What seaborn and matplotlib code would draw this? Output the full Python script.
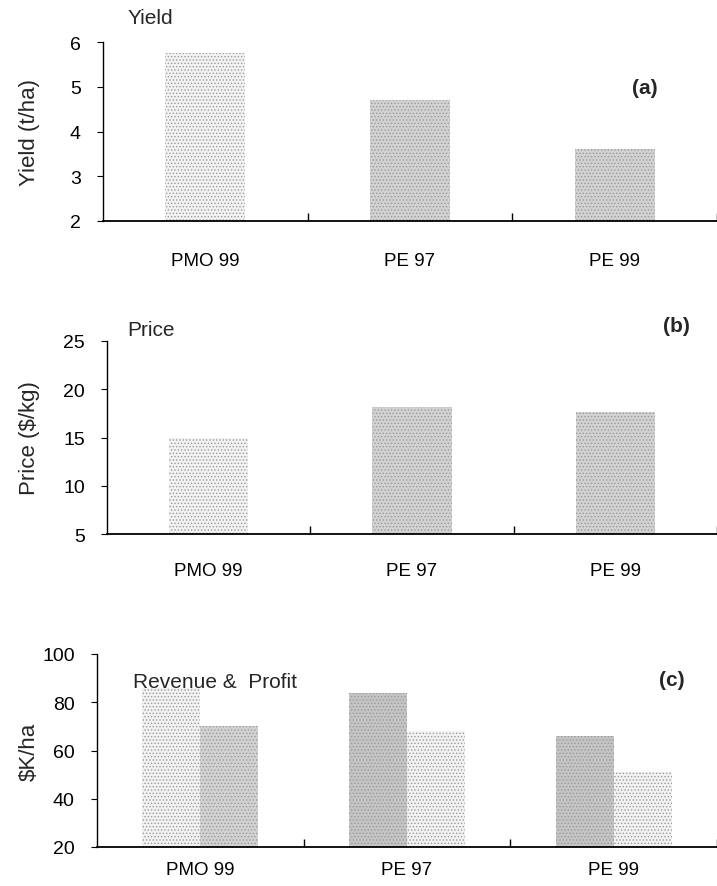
import matplotlib
matplotlib.use("Agg")
import matplotlib.pyplot as plt
import seaborn as sns
import pandas as pd
from matplotlib.ticker import FixedLocator

sns.set_theme(style="ticks")
plt.rcParams['font.family'] = ['Liberation Sans', 'DejaVu Sans']
plt.rcParams['hatch.linewidth'] = 0.6

categories = ["PMO 99", "PE 97", "PE 99"]
yield_vals = [5.75, 4.7, 3.6]
price_vals = [15.0, 18.2, 17.6]
revenue_vals = [86, 84, 66]
profit_vals = [70, 68, 51]

LIGHT = "#f2f2f2"
MED = "#d2d2d2"
DARK = "#c4c4c4"
HATCH_C = "#9a9a9a"

W, H = 717, 887
fig = plt.figure(figsize=(W / 100, H / 100), dpi=100)


def box(l, t, r, b):
    return [l / W, 1 - b / H, (r - l) / W, (b - t) / H]


def fx(x):
    return x / W


def fy(y):
    return 1 - y / H


def style_patch(p, face):
    p.set_facecolor(face)
    p.set_edgecolor(HATCH_C)
    p.set_linewidth(0)
    p.set_hatch(".....")


def style_axis(ax, ylim, yticks, xpad, left, right, ylab_x):
    ax.set_ylim(*ylim)
    ax.set_yticks(yticks)
    ax.set_xlim(-0.5, 2.5)
    ax.spines["top"].set_visible(False)
    ax.spines["right"].set_visible(False)
    ax.spines["left"].set_linewidth(1.0)
    ax.spines["bottom"].set_linewidth(1.3)
    ax.spines["left"].set_color("black")
    ax.spines["bottom"].set_color("black")
    ax.tick_params(axis="y", length=4, width=0.8, labelsize=14, pad=12, colors="black")
    ax.tick_params(axis="x", which="major", length=0, labelsize=13.5, pad=xpad, colors="black")
    ax.xaxis.set_minor_locator(FixedLocator([0.5, 1.5, 2.5]))
    ax.tick_params(axis="x", which="minor", direction="in", length=6, width=1.0, color="black")
    ax.set_xlabel("")
    ax.set_facecolor("white")
    ax.yaxis.set_label_coords((ylab_x - left) / (right - left), 0.5)


# Panel (a)
ax1 = fig.add_axes(box(103, 43, 717, 222))
df1 = pd.DataFrame({"cat": categories, "val": yield_vals})
sns.barplot(data=df1, x="cat", y="val", ax=ax1, width=0.39, color=MED, saturation=1)
for p, c in zip(ax1.patches, [LIGHT, MED, MED]):
    style_patch(p, c)
ax1.set_ylabel("Yield (t/ha)", fontsize=16)
style_axis(ax1, (2, 6), [2, 3, 4, 5, 6], 22, 103, 717, 40)
fig.text(fx(128), fy(19), "Yield", fontsize=15, va="center", ha="left")
fig.text(fx(645), fy(88), "(a)", fontsize=15, fontweight="bold", va="center", ha="center")

# Panel (b)
ax2 = fig.add_axes(box(107, 342, 717, 535))
df2 = pd.DataFrame({"cat": categories, "val": price_vals})
sns.barplot(data=df2, x="cat", y="val", ax=ax2, width=0.39, color=MED, saturation=1)
for p, c in zip(ax2.patches, [LIGHT, MED, MED]):
    style_patch(p, c)
ax2.set_ylabel("Price ($/kg)", fontsize=16)
style_axis(ax2, (5, 25), [5, 10, 15, 20, 25], 20, 107, 717, 40)
fig.text(fx(127), fy(331), "Price", fontsize=15, va="center", ha="left")
fig.text(fx(676), fy(326), "(b)", fontsize=15, fontweight="bold", va="center", ha="center")

# Panel (c)
ax3 = fig.add_axes(box(97, 655, 717, 848))
df3 = pd.DataFrame({
    "cat": categories * 2,
    "kind": ["Revenue"] * 3 + ["Profit"] * 3,
    "val": revenue_vals + profit_vals,
})
sns.barplot(data=df3, x="cat", y="val", hue="kind", ax=ax3, width=0.56,
            palette=[MED, MED], saturation=1, legend=False)
faces = [LIGHT, DARK, DARK, MED, LIGHT, LIGHT]
for p, c in zip(ax3.patches, faces):
    style_patch(p, c)
ax3.set_ylabel("$K/ha", fontsize=16)
style_axis(ax3, (20, 100), [20, 40, 60, 80, 100], 10, 97, 717, 40)
fig.text(fx(133), fy(683), "Revenue &  Profit", fontsize=15, va="center", ha="left")
fig.text(fx(672), fy(681), "(c)", fontsize=15, fontweight="bold", va="center", ha="center")

fig.savefig("out.png", dpi=100, facecolor="white")
